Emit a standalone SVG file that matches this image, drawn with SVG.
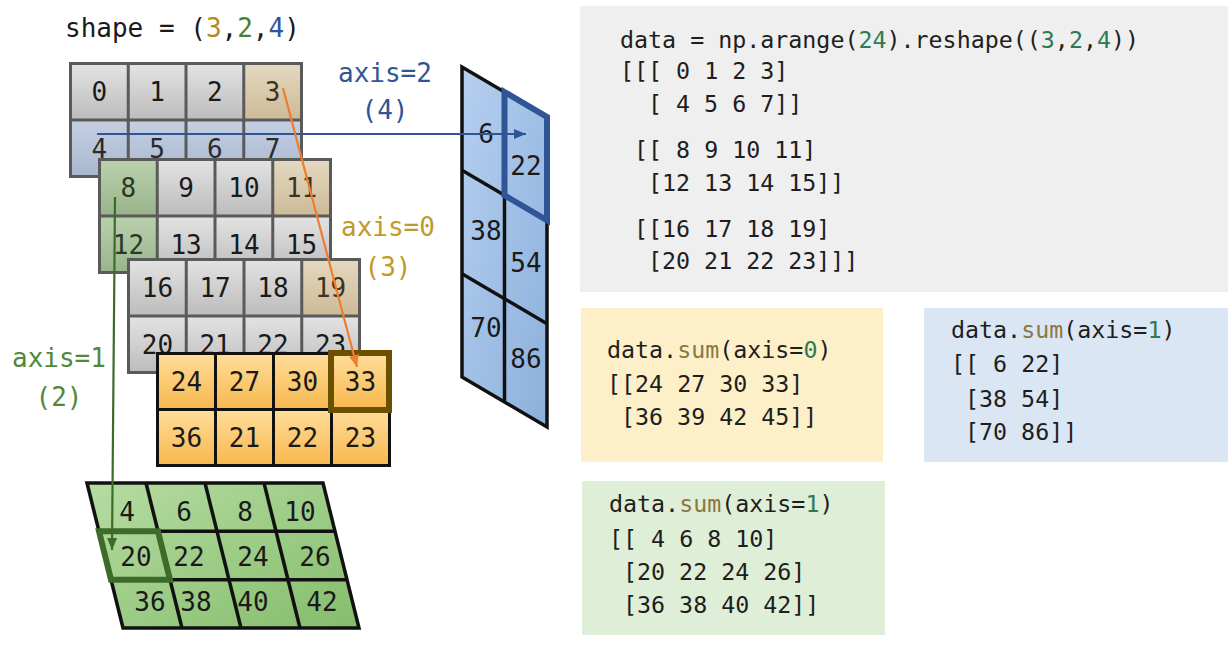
<svg xmlns="http://www.w3.org/2000/svg" width="1232" height="645" viewBox="0 0 1232 645">
<defs>
<linearGradient id="gGray" x1="0" y1="0" x2="0" y2="1"><stop offset="0" stop-color="#e2e2e2"/><stop offset="1" stop-color="#bdbdbd"/></linearGradient>
<linearGradient id="gTan" x1="0" y1="0" x2="0" y2="1"><stop offset="0" stop-color="#e4d8bf"/><stop offset="1" stop-color="#cdbb98"/></linearGradient>
<linearGradient id="gBlueRow" x1="0" y1="0" x2="0" y2="1"><stop offset="0" stop-color="#c4cfe2"/><stop offset="1" stop-color="#a9b7cf"/></linearGradient>
<linearGradient id="gGreenCol" x1="0" y1="0" x2="0" y2="1"><stop offset="0" stop-color="#b9d0ad"/><stop offset="1" stop-color="#9ab58c"/></linearGradient>
<linearGradient id="gOrange" x1="0" y1="0" x2="0" y2="1"><stop offset="0" stop-color="#ffdc98"/><stop offset="1" stop-color="#f7b950"/></linearGradient>
<linearGradient id="gGreen" x1="0" y1="0" x2="1" y2="1"><stop offset="0" stop-color="#b6dca2"/><stop offset="1" stop-color="#85bd6c"/></linearGradient>
<linearGradient id="gBlue" x1="0" y1="0" x2="1" y2="1"><stop offset="0" stop-color="#b6cff0"/><stop offset="1" stop-color="#8cb0dc"/></linearGradient>
<marker id="mBlue" markerUnits="userSpaceOnUse" markerWidth="12" markerHeight="10" refX="12" refY="5" orient="auto"><path d="M0,0 L12,5 L0,10 z" fill="#2f5597"/></marker>
<marker id="mOrange" markerUnits="userSpaceOnUse" markerWidth="12" markerHeight="10" refX="12" refY="5" orient="auto"><path d="M0,0 L12,5 L0,10 z" fill="#ed7d31"/></marker>
<marker id="mGreen" markerUnits="userSpaceOnUse" markerWidth="12" markerHeight="10" refX="12" refY="5" orient="auto"><path d="M0,0 L12,5 L0,10 z" fill="#3d6b2a"/></marker>
</defs>
<style>
.t{font-family:"DejaVu Sans Mono","Liberation Mono",monospace;font-size:26px;text-anchor:middle;fill:#1a1a1a}
.lbl{font-family:"DejaVu Sans Mono","Liberation Mono",monospace;font-size:26px}
.code{font-family:"DejaVu Sans Mono","Liberation Mono",monospace;font-size:23.3px;fill:#1e1e1e;white-space:pre}
.num{fill:#2e7a55}
.fn{fill:#8a7744}
.g{fill:url(#gGray)}
.tan{fill:url(#gTan)}
.br{fill:url(#gBlueRow)}
.gc{fill:url(#gGreenCol)}
.o{fill:url(#gOrange)}
.grid{stroke:#111;stroke-width:3.5;fill:none}
</style>
<rect width="1232" height="645" fill="#ffffff"/>

<g id="title">
<text class="lbl" x="65" y="37" fill="#1a1a1a">shape = (<tspan fill="#b58a1b">3</tspan>,<tspan fill="#4a7f2f">2</tspan>,<tspan fill="#2f5597">4</tspan>)</text>
</g>

<g id="layer0">
<rect x="69" y="62" width="234" height="116" fill="#5a5a5a"/>
<rect class="g" x="72" y="65" width="54.75" height="53.5"/>
<rect class="g" x="129.75" y="65" width="54.75" height="53.5"/>
<rect class="g" x="187.5" y="65" width="54.75" height="53.5"/>
<rect class="tan" x="245.25" y="65" width="54.75" height="53.5"/>
<rect class="br" x="72" y="121.5" width="54.75" height="53.5"/>
<rect class="br" x="129.75" y="121.5" width="54.75" height="53.5"/>
<rect class="br" x="187.5" y="121.5" width="54.75" height="53.5"/>
<rect class="br" x="245.25" y="121.5" width="54.75" height="53.5"/>
<text class="t" x="99.4" y="101">0</text><text class="t" x="157.1" y="101">1</text><text class="t" x="214.9" y="101">2</text><text class="t" x="272.6" y="101" style="fill:#3d3322">3</text>
<text class="t" x="99.4" y="158" style="fill:#2b2b2b">4</text><text class="t" x="157.1" y="158" style="fill:#2b2b2b">5</text><text class="t" x="214.9" y="158" style="fill:#2b2b2b">6</text><text class="t" x="272.6" y="158" style="fill:#2b2b2b">7</text>
</g>

<g id="layer1">
<rect x="98" y="158" width="234" height="116" fill="#5a5a5a"/>
<rect class="gc" x="101" y="161" width="54.75" height="53.5"/>
<rect class="g" x="158.75" y="161" width="54.75" height="53.5"/>
<rect class="g" x="216.5" y="161" width="54.75" height="53.5"/>
<rect class="tan" x="274.25" y="161" width="54.75" height="53.5"/>
<rect class="gc" x="101" y="217.5" width="54.75" height="53.5"/>
<rect class="g" x="158.75" y="217.5" width="54.75" height="53.5"/>
<rect class="g" x="216.5" y="217.5" width="54.75" height="53.5"/>
<rect class="g" x="274.25" y="217.5" width="54.75" height="53.5"/>
<text class="t" x="128.4" y="197" style="fill:#2a3a22">8</text><text class="t" x="186.1" y="197">9</text><text class="t" x="243.9" y="197">10</text><text class="t" x="301.6" y="197" style="fill:#3d3322">11</text>
<text class="t" x="128.4" y="254" style="fill:#2a3a22">12</text><text class="t" x="186.1" y="254">13</text><text class="t" x="243.9" y="254">14</text><text class="t" x="301.6" y="254">15</text>
</g>

<g id="layer2">
<rect x="127" y="258" width="234" height="116" fill="#5a5a5a"/>
<rect class="g" x="130" y="261" width="54.75" height="53.5"/>
<rect class="g" x="187.75" y="261" width="54.75" height="53.5"/>
<rect class="g" x="245.5" y="261" width="54.75" height="53.5"/>
<rect class="tan" x="303.25" y="261" width="54.75" height="53.5"/>
<rect class="g" x="130" y="317.5" width="54.75" height="53.5"/>
<rect class="g" x="187.75" y="317.5" width="54.75" height="53.5"/>
<rect class="g" x="245.5" y="317.5" width="54.75" height="53.5"/>
<rect class="g" x="303.25" y="317.5" width="54.75" height="53.5"/>
<text class="t" x="157.4" y="297">16</text><text class="t" x="215.1" y="297">17</text><text class="t" x="272.9" y="297">18</text><text class="t" x="330.6" y="297" style="fill:#3d3322">19</text>
<text class="t" x="157.4" y="354">20</text><text class="t" x="215.1" y="354">21</text><text class="t" x="272.9" y="354">22</text><text class="t" x="330.6" y="354">23</text>
</g>

<g id="sum-axis0">
<rect x="156" y="352" width="235" height="115" fill="#111"/>
<rect class="o" x="159" y="355" width="55" height="53"/>
<rect class="o" x="217" y="355" width="55" height="53"/>
<rect class="o" x="275" y="355" width="55" height="53"/>
<rect class="o" x="333" y="355" width="55" height="53"/>
<rect class="o" x="159" y="411" width="55" height="53"/>
<rect class="o" x="217" y="411" width="55" height="53"/>
<rect class="o" x="275" y="411" width="55" height="53"/>
<rect class="o" x="333" y="411" width="55" height="53"/>
<rect x="331" y="353" width="58" height="57" fill="none" stroke="#6b5000" stroke-width="6"/>
<text class="t" x="186.5" y="391">24</text><text class="t" x="244.5" y="391">27</text><text class="t" x="302.5" y="391">30</text><text class="t" x="360.5" y="391">33</text>
<text class="t" x="186.5" y="447">36</text><text class="t" x="244.5" y="447">21</text><text class="t" x="302.5" y="447">22</text><text class="t" x="360.5" y="447">23</text>
</g>

<g id="sum-axis1">
<polygon points="87,483 323,483 359,628 123,628" fill="url(#gGreen)"/>
<g class="grid">
<polygon points="87,483 323,483 359,628 123,628"/>
<line x1="99" y1="531.3" x2="335" y2="531.3"/>
<line x1="111" y1="579.7" x2="347" y2="579.7"/>
<line x1="146" y1="483" x2="182" y2="628"/>
<line x1="205" y1="483" x2="241" y2="628"/>
<line x1="264" y1="483" x2="300" y2="628"/>
</g>
<polygon points="99,531.3 158,531.3 170,579.7 111,579.7" fill="none" stroke="#3d6b2a" stroke-width="6"/>
<text class="t" x="127" y="521">4</text><text class="t" x="184" y="521">6</text><text class="t" x="245" y="521">8</text><text class="t" x="300" y="521">10</text>
<text class="t" x="136" y="566">20</text><text class="t" x="189" y="566">22</text><text class="t" x="253" y="566">24</text><text class="t" x="315" y="566">26</text>
<text class="t" x="150" y="611">36</text><text class="t" x="196" y="611">38</text><text class="t" x="253" y="611">40</text><text class="t" x="322" y="611">42</text>
</g>

<g id="sum-axis2">
<polygon points="462,67 547,117 547,427 462,377" fill="url(#gBlue)"/>
<g class="grid">
<polygon points="462,67 547,117 547,427 462,377"/>
<line x1="504.5" y1="92" x2="504.5" y2="402"/>
<line x1="462" y1="170.3" x2="547" y2="220.3"/>
<line x1="462" y1="273.7" x2="547" y2="323.7"/>
</g>
<polygon points="504.5,92 547,117 547,220.3 504.5,195.3" fill="none" stroke="#2f5597" stroke-width="6"/>
<text class="t" x="486" y="143">6</text><text class="t" x="526" y="175">22</text>
<text class="t" x="486" y="240">38</text><text class="t" x="526" y="272">54</text>
<text class="t" x="486" y="337">70</text><text class="t" x="526" y="368">86</text>
</g>

<g id="labels">
<text class="lbl" x="338" y="82" fill="#2f5597">axis=2</text>
<text class="lbl" x="385" y="119" fill="#2f5597" text-anchor="middle">(4)</text>
<text class="lbl" x="341" y="236" fill="#c09a2a">axis=0</text>
<text class="lbl" x="388" y="276" fill="#c09a2a" text-anchor="middle">(3)</text>
<text class="lbl" x="12" y="367" fill="#4f8a3a">axis=1</text>
<text class="lbl" x="59" y="406" fill="#4f8a3a" text-anchor="middle">(2)</text>
</g>

<g id="connectors" fill="none" stroke-width="2.2">
<line x1="97" y1="134" x2="526" y2="134" stroke="#2f5597" marker-end="url(#mBlue)"/>
<line x1="283" y1="88" x2="357" y2="367" stroke="#ed7d31" marker-end="url(#mOrange)"/>
<line x1="115" y1="197" x2="112" y2="550" stroke="#3d6b2a" marker-end="url(#mGreen)"/>
</g>

<g id="code-data">
<rect x="580" y="6" width="648" height="286" fill="#efefef"/>
<text class="code" x="620" y="48">data = np.arange(<tspan class="num">24</tspan>).reshape((<tspan class="num">3</tspan>,<tspan class="num">2</tspan>,<tspan class="num">4</tspan>))</text>
<text class="code" x="620" y="79">[[[ 0 1 2 3]</text>
<text class="code" x="648" y="112">[ 4 5 6 7]]</text>
<text class="code" x="634" y="158">[[ 8 9 10 11]</text>
<text class="code" x="648" y="191">[12 13 14 15]]</text>
<text class="code" x="634" y="237">[[16 17 18 19]</text>
<text class="code" x="648" y="269">[20 21 22 23]]]</text>
</g>

<g id="code-sum0">
<rect x="581" y="308" width="302" height="154" fill="#fdf0c9"/>
<text class="code" x="607" y="358">data.<tspan class="fn">sum</tspan>(axis=<tspan class="num">0</tspan>)</text>
<text class="code" x="607" y="392">[[24 27 30 33]</text>
<text class="code" x="621" y="425">[36 39 42 45]]</text>
</g>

<g id="code-sum2">
<rect x="924" y="308" width="304" height="154" fill="#dae6f3"/>
<text class="code" x="951" y="338">data.<tspan class="fn">sum</tspan>(axis=<tspan class="num">1</tspan>)</text>
<text class="code" x="951" y="372">[[ 6 22]</text>
<text class="code" x="965" y="407">[38 54]</text>
<text class="code" x="965" y="440">[70 86]]</text>
</g>

<g id="code-sum1">
<rect x="582" y="481" width="303" height="154" fill="#dfeed6"/>
<text class="code" x="609" y="512">data.<tspan class="fn">sum</tspan>(axis=<tspan class="num">1</tspan>)</text>
<text class="code" x="609" y="547">[[ 4 6 8 10]</text>
<text class="code" x="623" y="580">[20 22 24 26]</text>
<text class="code" x="623" y="613">[36 38 40 42]]</text>
</g>
</svg>
